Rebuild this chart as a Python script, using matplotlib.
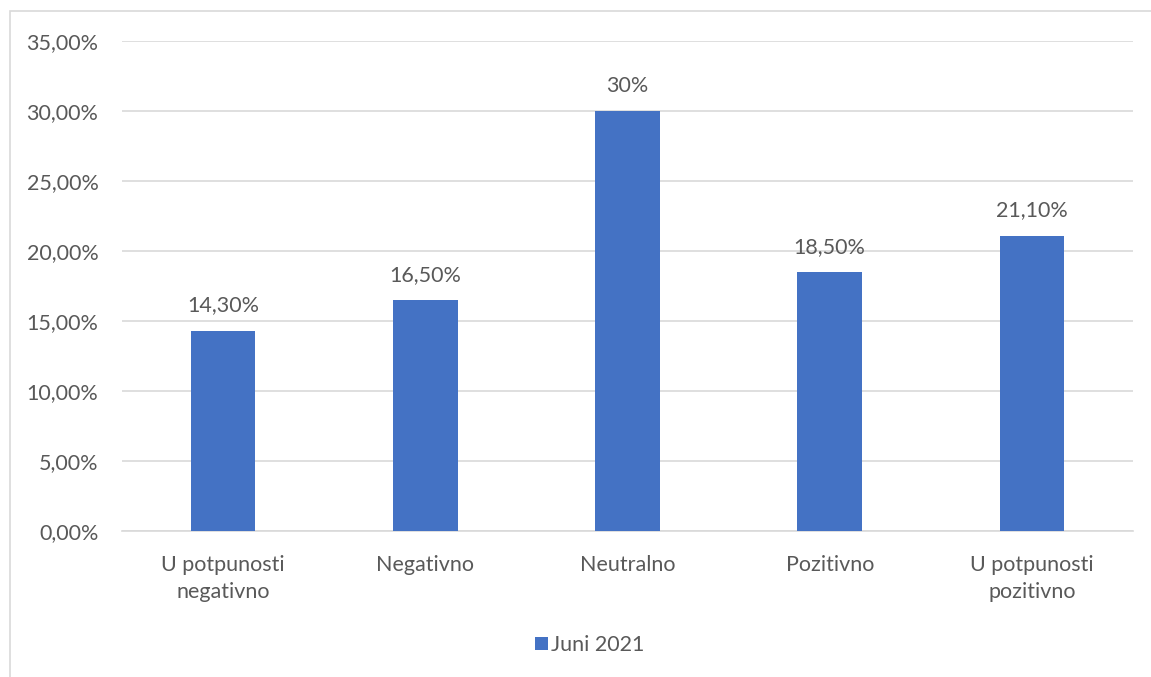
import matplotlib.pyplot as plt
from matplotlib.patches import Rectangle

plt.rcParams['font.family'] = ['Lato', 'DejaVu Sans']

categories = ["U potpunosti\nnegativno", "Negativno", "Neutralno", "Pozitivno", "U potpunosti\npozitivno"]
values = [14.3, 16.5, 30.0, 18.5, 21.1]
value_labels = ["14,30%", "16,50%", "30%", "18,50%", "21,10%"]
yticks = [0, 5, 10, 15, 20, 25, 30, 35]
series_name = "Juni 2021"

bar_color = "#4472C4"
text_color = "#595959"
grid_color = "#D9D9D9"
fs = 15.5

W, H = 1151, 677
fig = plt.figure(figsize=(W / 100, H / 100), dpi=100)

# chart area frame (top and left edges visible)
fig.patches.append(Rectangle((10 / W, -0.1), 1.2, 1 - 11 / H + 0.1,
                             transform=fig.transFigure, fill=False,
                             edgecolor=grid_color, linewidth=1.2))

ax = fig.add_axes([122 / W, 1 - 531 / H, (1133 - 122) / W, (531 - 41) / H])

x = range(len(categories))
bars = ax.bar(x, values, width=0.32, color=bar_color, label=series_name, zorder=3)

for rect, lab in zip(bars, value_labels):
    ax.annotate(lab, (rect.get_x() + rect.get_width() / 2, rect.get_height()),
                xytext=(0, 11), textcoords="offset points", ha="center", va="bottom",
                fontsize=fs, color=text_color)

ax.set_xlim(-0.5, len(categories) - 0.5)
ax.set_ylim(0, 35)
ax.set_yticks(yticks)
ax.set_yticklabels([f"{v:.2f}%".replace(".", ",") for v in yticks])
ax.set_xticks(list(x))
ax.set_xticklabels(categories, linespacing=1.45)

ax.yaxis.grid(True, color=grid_color, linewidth=1.2, zorder=0)
for s in ["top", "right", "left"]:
    ax.spines[s].set_visible(False)
ax.spines["bottom"].set_color(grid_color)
ax.spines["bottom"].set_linewidth(1.2)
ax.tick_params(axis="both", length=0, labelsize=fs, colors=text_color)
ax.tick_params(axis="y", pad=17)
ax.tick_params(axis="x", pad=17)

fig.legend(loc="center", bbox_to_anchor=(590 / W, 1 - 645 / H), frameon=False,
           fontsize=fs, labelcolor=text_color, handlelength=0.6, handleheight=0.6,
           handletextpad=0.15)

fig.savefig("out.png", dpi=100)
